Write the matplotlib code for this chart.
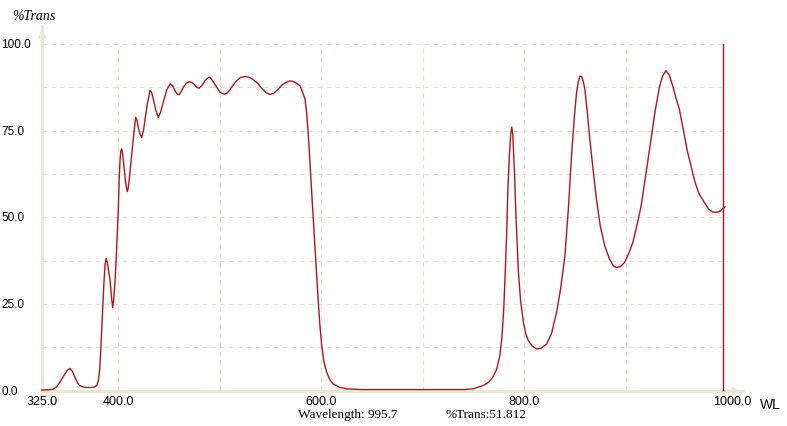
import matplotlib
matplotlib.use("Agg")
import matplotlib.pyplot as plt
from matplotlib.transforms import blended_transform_factory

# transmission spectrum (nm, %T)
wavelength = [
    325, 330, 336, 339, 342.7, 345, 347.6, 350, 352.6, 355,
    357.5, 360, 362.4, 366, 369, 374, 377.2, 379, 380.5, 381.8,
    382.8, 383.8, 384.8, 386, 387.2, 388.3, 389.5, 391, 392, 393.3,
    394.6, 395.6, 396.9, 398, 399.2, 400.2, 401, 401.8, 402.6, 403.5,
    404.5, 405.3, 406.1, 407.5, 409, 410, 411, 412.2, 413.4, 415.4,
    417.3, 418.6, 419.9, 421.5, 423.2, 425, 426.5, 429, 431.4, 433,
    434.7, 437, 439.6, 442, 444.5, 448, 451.3, 453.5, 456, 458,
    460, 462, 464.2, 467, 470.1, 472.5, 474.8, 477, 479.7, 482.5,
    485.6, 488, 490.5, 493.5, 497.1, 500.5, 504.6, 507.5, 510.2, 513.5,
    516.8, 520.5, 525, 529, 533.2, 537.5, 541.5, 545.5, 549.6, 553.5,
    557.8, 561, 564.4, 567, 569.3, 572, 574.3, 577, 579.2, 581.5,
    584.1, 585.8, 587.4, 589, 590.7, 592.3, 594, 595.6, 597.2, 598.9,
    600.6, 602.8, 605.5, 608.5, 612, 618, 625, 640, 700, 740,
    750, 755, 760, 765, 769, 773, 776, 778, 780, 781.4,
    783, 784, 785.5, 786.8, 787.8, 788.8, 789.7, 790.5, 792, 794.4,
    796.5, 799.3, 801.5, 804.2, 808, 812.4, 817, 822.2, 827, 832,
    836, 840.2, 843.5, 846.7, 849.5, 851.5, 853.2, 855, 856.5, 858,
    859.8, 862, 864.7, 868, 871.2, 875, 879.4, 884, 888, 891,
    895, 899, 903, 907.2, 911, 915.3, 920, 925.1, 929, 933.3,
    936.5, 939.8, 943, 946.4, 949.5, 952.9, 957, 960.5, 964.3, 968,
    972, 977.5, 982, 985, 988.8, 992, 995.4, 998,
]
trans = [
    0.2, 0.2, 0.4, 1.0, 2.4, 3.6, 4.8, 5.9, 6.4, 5.5,
    3.8, 2.2, 1.4, 1.0, 0.9, 0.9, 1.1, 1.6, 2.8, 6.0,
    11.0, 17.0, 23.5, 31.0, 36.5, 38.1, 36.8, 33.8, 32.1, 27.5,
    24.0, 26.0, 31.2, 37.5, 45.6, 52.4, 60.5, 66.0, 69.0, 69.7,
    68.2, 66.0, 63.9, 59.8, 57.4, 58.5, 61.0, 64.5, 67.8, 74.0,
    78.8, 78.0, 75.9, 74.0, 73.0, 75.0, 78.3, 83.0, 86.5, 86.0,
    84.1, 81.0, 78.8, 80.5, 83.2, 86.8, 88.5, 88.0, 86.5, 85.6,
    85.3, 86.2, 87.5, 88.6, 89.1, 88.9, 88.4, 87.6, 87.2, 88.0,
    89.4, 90.1, 90.4, 89.2, 87.5, 86.0, 85.5, 85.9, 86.8, 88.2,
    89.4, 90.3, 90.6, 90.4, 89.7, 88.6, 87.2, 86.0, 85.4, 85.8,
    87.0, 88.0, 88.7, 89.1, 89.3, 89.2, 88.9, 88.4, 87.9, 86.3,
    84.1, 80.0, 73.5, 66.0, 57.2, 49.5, 41.8, 33.5, 25.5, 18.5,
    12.9, 8.3, 5.3, 3.2, 1.9, 1.0, 0.5, 0.3, 0.3, 0.3,
    0.5, 1.0, 1.5, 2.4, 3.8, 6.2, 10.0, 14.9, 24.0, 34.1,
    47.0, 58.1, 68.0, 74.0, 76.0, 74.0, 68.0, 63.0, 50.0, 34.1,
    26.0, 19.7, 16.5, 14.4, 12.8, 12.0, 12.3, 13.4, 16.5, 22.6,
    29.5, 38.9, 52.0, 67.8, 79.0, 85.5, 88.9, 90.7, 90.6, 89.5,
    87.0, 81.0, 72.6, 63.5, 55.3, 47.5, 41.8, 38.0, 36.0, 35.5,
    35.8, 37.0, 39.5, 42.8, 47.5, 53.3, 62.5, 72.6, 80.5, 87.5,
    90.8, 92.3, 91.0, 87.9, 84.5, 81.2, 75.0, 69.5, 64.9, 60.5,
    57.0, 54.3, 52.3, 51.6, 51.4, 51.6, 52.4, 53.0,
]

cursor_wl = 995.7
cursor_t = 51.812
y_ticks = [0, 25, 50, 75, 100]
x_ticks = [325, 400, 600, 800, 1000]
x_grid = [400, 500, 600, 700, 800, 900]
y_grid = [12.5, 25, 37.5, 50, 62.5, 75, 87.5, 100]

LINE = "#B0141E"
AXIS = "#ECE8D6"
GRID = "#EFDCD2"

W, H = 787, 427
fig = plt.figure(figsize=(W / 100, H / 100), dpi=100)
fig.patch.set_facecolor("white")
ax = fig.add_axes([42 / W, (H - 391.6) / H, (743 - 42) / W, (391.6 - 27) / H])
ax.set_xlim(325, 325 + (743 - 42) / 1.015)
ax.set_ylim(0, (391.6 - 27) / 3.467)

for s in ["top", "right"]:
    ax.spines[s].set_visible(False)
for s in ["left", "bottom"]:
    ax.spines[s].set_color(AXIS)
    ax.spines[s].set_linewidth(2.2)
ax.set_xticks([])
ax.set_yticks([])

for g in x_grid:
    ax.plot([g, g], [0, 100], ls=(0, (4, 4)), color=GRID, lw=0.8, zorder=1)
for g in y_grid:
    ax.plot([325, 1000], [g, g], ls=(0, (4, 4)), color=GRID, lw=0.8, zorder=1)

# axis arrow heads
ax.annotate("", xy=(0, 1.0), xytext=(0, 0.95), xycoords="axes fraction",
            arrowprops=dict(arrowstyle="->", color=AXIS, lw=2.0))
ax.annotate("", xy=(1.0, 0), xytext=(0.97, 0), xycoords="axes fraction",
            arrowprops=dict(arrowstyle="->", color=AXIS, lw=1.5))

ax.plot(wavelength, trans, color=LINE, lw=1.0, zorder=3, clip_on=False)
ax.plot([cursor_wl, cursor_wl], [0, 100], color=LINE, lw=1.0, zorder=3)

tf = blended_transform_factory(fig.transFigure, ax.transData)
for v in y_ticks:
    ax.text(1 / W, v, f"{v:.1f}", transform=tf, ha="left", va="center",
            fontsize=8.5, family="Liberation Sans", color="black")
tx = blended_transform_factory(ax.transData, fig.transFigure)
for v in x_ticks:
    xpos = v + 5 if v == 1000 else v
    ax.text(xpos, (H - 402.5) / H, f"{v:.1f}", transform=tx, ha="center", va="center",
            fontsize=9, family="Liberation Sans", color="black")

fig.text(770 / W, (H - 405) / H, "WL", ha="center", va="center", fontsize=10,
         family="Liberation Sans")
fig.text(12 / W, (H - 16) / H, "%Trans", ha="left", va="center", fontsize=10,
         family="Liberation Serif", style="italic")
fig.text(298 / W, (H - 415) / H, f"Wavelength: {cursor_wl}", ha="left", va="center",
         fontsize=9.5, family="Liberation Serif")
fig.text(445 / W, (H - 415) / H, f"%Trans:{cursor_t:.3f}", ha="left", va="center",
         fontsize=9.5, family="Liberation Serif")

fig.savefig("out.png", dpi=100)
